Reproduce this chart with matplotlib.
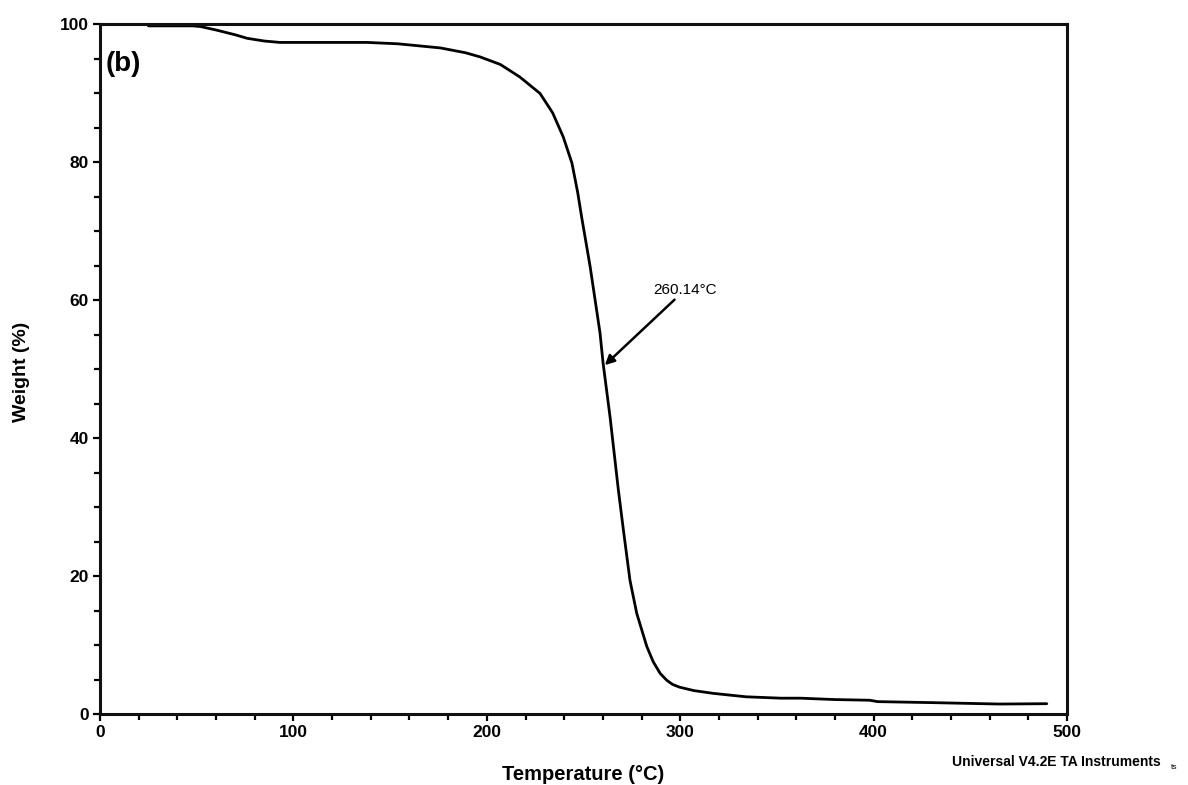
import matplotlib
matplotlib.use("Agg")
import matplotlib.pyplot as plt
from matplotlib.ticker import MultipleLocator

temperature = [25, 40, 48, 52, 60, 70, 76, 85, 93, 110, 138, 154, 176, 189,
               196.5, 207, 217, 227.5, 234, 239.5, 244, 247, 249, 253.4, 258.5,
               260.1, 263.7, 268, 270.6, 274, 277.5, 282.7, 286, 289.6, 293,
               296, 299.6, 307, 317, 334, 352, 362, 380, 398, 402, 431, 465,
               489.5]
weight = [99.8, 99.8, 99.8, 99.7, 99.2, 98.5, 98.0, 97.6, 97.4, 97.4, 97.4,
          97.2, 96.6, 95.9, 95.3, 94.2, 92.4, 90.0, 87.2, 83.7, 79.9, 75.6,
          72.1, 64.9, 55.3, 50.9, 43.1, 32.5, 26.7, 19.4, 14.6, 9.8, 7.6, 5.9,
          4.9, 4.3, 3.9, 3.4, 3.0, 2.5, 2.3, 2.3, 2.1, 2.0, 1.8, 1.65, 1.45,
          1.5]

x_ticks = [0, 100, 200, 300, 400, 500]
y_ticks = [0, 20, 40, 60, 80, 100]
anno_text = "260.14°C"
anno_tip = (261.0, 50.6)
anno_tail = (286.0, 60.5)

plt.rcParams['font.family'] = ['Liberation Sans', 'DejaVu Sans']

fig = plt.figure(figsize=(11.88, 7.85), dpi=100)
ax = fig.add_axes([0.0842, 0.0904, 0.8140, 0.8784])

ax.plot(temperature, weight, color='black', lw=2.0, solid_capstyle='round',
        solid_joinstyle='round')

ax.set_xlim(0, 500)
ax.set_ylim(0, 100)
ax.set_xticks(x_ticks)
ax.set_yticks(y_ticks)
ax.xaxis.set_minor_locator(MultipleLocator(20))
ax.yaxis.set_minor_locator(MultipleLocator(5))
ax.tick_params(which='both', direction='out', width=1.6, length=4,
               top=False, right=False, colors='black')
ax.tick_params(which='major', length=5, labelsize=12.5, pad=3)
for lbl in ax.get_xticklabels() + ax.get_yticklabels():
    lbl.set_fontweight('bold')
for sp in ax.spines.values():
    sp.set_linewidth(2.2)
    sp.set_color('#111111')

ax.set_xlabel("Temperature (°C)", fontsize=14.5, fontweight='bold', labelpad=18)
ax.set_ylabel("Weight (%)", fontsize=14, fontweight='bold')
ax.yaxis.set_label_coords(-0.072, 0.496)

ax.text(0.006, 0.962, "(b)", transform=ax.transAxes, fontsize=20,
        fontweight='bold', va='top', ha='left')

ax.annotate(anno_text, xy=anno_tip, xytext=anno_tail,
            fontsize=11, ha='left', va='bottom',
            arrowprops=dict(arrowstyle='-|>', color='black', lw=1.8,
                            mutation_scale=14, shrinkA=0, shrinkB=0))

fig.text(0.801, 0.029, "Universal V4.2E TA Instruments", fontsize=10,
         fontweight='bold', ha='left', va='center')
fig.text(0.986, 0.022, "ts", fontsize=6, ha='left', va='center')

fig.savefig("out.png", dpi=100)
